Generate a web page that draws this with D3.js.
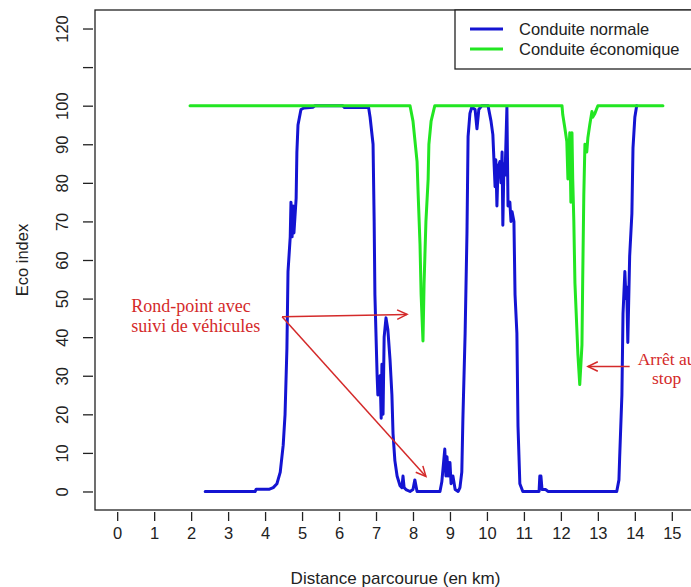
<!DOCTYPE html>
<html>
<head>
<meta charset="utf-8">
<script src="https://cdn.jsdelivr.net/npm/d3@7"></script>
<style>
  body { margin: 0; background: #fff; }
  svg { display: block; font-family: "Liberation Sans", Arial, sans-serif; }
</style>
</head>
<body>
<div id="chart"></div>
<script>
// distance (km), eco index
const normale = [
  [2.38, 0], [3.73, 0], [3.76, 0.6], [4.12, 0.6], [4.22, 1], [4.32, 2], [4.41, 5],
  [4.49, 12], [4.54, 20], [4.59, 37], [4.62, 57], [4.68, 66], [4.70, 75], [4.73, 66],
  [4.76, 74], [4.78, 67], [4.84, 76], [4.86, 88], [4.89, 95], [4.97, 99], [5.05, 99.4],
  [5.30, 99.6], [5.35, 100], [6.10, 100], [6.15, 99.5], [6.80, 99.5], [6.84, 97],
  [6.92, 90], [6.95, 70], [6.97, 51], [7.03, 30], [7.05, 25], [7.11, 30], [7.14, 19],
  [7.16, 33], [7.19, 20], [7.22, 40], [7.27, 45], [7.32, 42], [7.38, 34], [7.43, 25],
  [7.46, 15], [7.51, 8], [7.57, 4], [7.65, 1.5], [7.70, 1], [7.73, 4], [7.76, 1],
  [7.81, 0.5], [7.92, 0], [8.00, 0.5], [8.05, 3], [8.11, 0], [8.73, 0], [8.78, 2.5],
  [8.86, 11], [8.89, 4], [8.92, 9], [8.95, 4], [9.00, 7.5], [9.03, 2], [9.08, 4],
  [9.14, 0.5], [9.22, 0], [9.27, 1], [9.32, 5], [9.35, 19], [9.41, 41], [9.46, 67],
  [9.49, 92], [9.54, 98], [9.59, 99.6], [9.68, 99], [9.73, 94], [9.78, 99], [9.86, 100],
  [10.03, 100], [10.11, 96], [10.16, 92.5], [10.22, 79], [10.24, 86], [10.27, 74],
  [10.30, 84], [10.35, 85.5], [10.38, 80], [10.41, 88], [10.43, 69], [10.46, 85],
  [10.49, 82], [10.54, 99.6], [10.57, 74], [10.62, 75], [10.65, 70], [10.68, 72.5],
  [10.73, 70], [10.76, 51], [10.81, 41], [10.84, 17], [10.89, 2], [10.97, 0],
  [11.41, 0], [11.43, 4], [11.46, 4], [11.49, 0.5], [11.59, 0.5], [11.65, 0],
  [13.51, 0], [13.57, 3], [13.59, 9], [13.65, 25], [13.68, 46], [13.73, 57],
  [13.76, 50], [13.78, 53], [13.81, 38.6], [13.86, 61], [13.92, 72], [13.95, 89],
  [14.00, 97], [14.05, 100]
];

const economique = [
  [1.97, 100], [7.92, 100], [8.00, 96], [8.11, 85.5], [8.14, 77], [8.19, 64],
  [8.22, 51], [8.27, 39], [8.30, 54], [8.35, 70], [8.41, 81], [8.43, 90], [8.49, 96],
  [8.59, 100], [12.03, 100], [12.05, 97.7], [12.11, 94], [12.16, 90.7], [12.19, 81],
  [12.24, 93], [12.27, 75], [12.30, 93], [12.32, 81], [12.35, 70], [12.38, 54],
  [12.43, 42.5], [12.46, 35.5], [12.51, 27.7], [12.57, 38], [12.59, 55], [12.62, 77],
  [12.65, 90], [12.70, 88], [12.73, 91.7], [12.78, 95], [12.84, 98.5], [12.86, 97],
  [12.92, 98], [13.00, 100], [14.76, 100]
];

const xTicks = d3.range(0, 16);
const yTicks = d3.range(0, 130, 10);
const yLabelSkip = [110];

const series = [
  {name: 'Conduite normale', data: normale, color: '#1414d2'},
  {name: 'Conduite économique', data: economique, color: '#22e622'}
];

// annotation anchors in data units
const rondPoint = {text: ['Rond-point avec', 'suivi de véhicules'], at: [0.38, 46.4], from: [4.46, 45.3],
  to: [[7.84, 45.9], [8.35, 3.9]]};
const stop = {text: ['Arrêt au', 'stop'], at: [14.86, 32.8], from: [13.86, 32.4], to: [[12.73, 32.4]]};

const width = 691;
const height = 587;
const frame = {left: 95, right: 694, top: 10, bottom: 510};

const x = d3.scaleLinear()
    .domain([-0.6, 15.6])
    .range([frame.left, frame.right]);

const y = d3.scaleLinear()
    .domain([-4.8, 124.8])
    .range([frame.bottom, frame.top]);

const svg = d3.select('#chart')
  .append('svg')
    .attr('width', width)
    .attr('height', height);

const line = d3.line()
    .x(d => x(d[0]))
    .y(d => y(d[1]));

svg.append('g')
    .attr('class', 'lines')
  .selectAll('path')
  .data(series)
  .join('path')
    .attr('d', d => line(d.data))
    .attr('fill', 'none')
    .attr('stroke', d => d.color)
    .attr('stroke-width', 3)
    .attr('stroke-linejoin', 'round')
    .attr('stroke-linecap', 'round');

svg.append('rect')
    .attr('x', frame.left)
    .attr('y', frame.top)
    .attr('width', frame.right - frame.left)
    .attr('height', frame.bottom - frame.top)
    .attr('fill', 'none')
    .attr('stroke', '#222')
    .attr('stroke-width', 1.3);

// x axis sits a couple of pixels below the box, like R's axis()
svg.append('g')
    .attr('transform', `translate(0,${frame.bottom + 2})`)
    .call(d3.axisBottom(x).tickValues(xTicks).tickSize(9).tickPadding(6).tickFormat(d3.format('d')))
    .call(g => g.select('.domain').remove())
    .call(g => g.selectAll('.tick line').attr('stroke', '#222').attr('stroke-width', 1.3))
    .call(g => g.selectAll('.tick text')
        .attr('font-size', 16.5)
        .attr('font-family', '"Liberation Sans", Arial, sans-serif')
        .attr('fill', '#222'));

svg.append('g')
    .attr('transform', `translate(${frame.left - 2},0)`)
    .call(d3.axisLeft(y).tickValues(yTicks).tickSize(10).tickFormat(d => yLabelSkip.includes(d) ? '' : d))
    .call(g => g.select('.domain').remove())
    .call(g => g.selectAll('.tick line').attr('stroke', '#222').attr('stroke-width', 1.3))
    .call(g => g.selectAll('.tick text')
        .attr('x', null)
        .attr('dy', null)
        .attr('transform', 'translate(-31,0) rotate(-90)')
        .attr('text-anchor', 'middle')
        .attr('dominant-baseline', 'central')
        .attr('font-size', 16.5)
        .attr('font-family', '"Liberation Sans", Arial, sans-serif')
        .attr('fill', '#222'));

svg.append('text')
    .attr('x', (frame.left + frame.right) / 2 + 1)
    .attr('y', 584)
    .attr('text-anchor', 'middle')
    .attr('font-size', 17)
    .attr('fill', '#222')
    .text('Distance parcourue (en km)');

svg.append('text')
    .attr('transform', `translate(22,${(frame.top + frame.bottom) / 2}) rotate(-90)`)
    .attr('text-anchor', 'middle')
    .attr('dominant-baseline', 'central')
    .attr('font-size', 16.5)
    .attr('fill', '#222')
    .text('Eco index');

// legend
const legend = svg.append('g').attr('class', 'legend');

legend.append('rect')
    .attr('x', 455)
    .attr('y', frame.top)
    .attr('width', frame.right - 455)
    .attr('height', 59)
    .attr('fill', '#fff')
    .attr('stroke', '#222')
    .attr('stroke-width', 1.3);

legend.selectAll('.item')
  .data(series)
  .join('g')
    .attr('class', 'item')
    .attr('transform', (d, i) => `translate(470,${29 + i * 20})`)
    .call(g => g.append('line')
        .attr('x2', 33)
        .attr('stroke', d => d.color)
        .attr('stroke-width', 3))
    .call(g => g.append('text')
        .attr('x', 49)
        .attr('dominant-baseline', 'central')
        .attr('font-size', 16.5)
        .attr('fill', '#222')
        .text(d => d.name));

// annotations
const red = '#d42a2a';

function arrow(g, from, to) {
  const x0 = x(from[0]), y0 = y(from[1]);
  const x1 = x(to[0]), y1 = y(to[1]);
  const a = Math.atan2(y1 - y0, x1 - x0);
  const len = 11, spread = Math.PI / 7;
  g.append('line')
      .attr('x1', x0).attr('y1', y0)
      .attr('x2', x1).attr('y2', y1);
  g.append('path')
      .attr('fill', 'none')
      .attr('d', `M${x1 - len * Math.cos(a - spread)},${y1 - len * Math.sin(a - spread)}L${x1},${y1}L${x1 - len * Math.cos(a + spread)},${y1 - len * Math.sin(a + spread)}`);
}

const notes = svg.append('g')
    .attr('stroke', red)
    .attr('stroke-width', 1.5);

rondPoint.to.forEach(t => arrow(notes, rondPoint.from, t));
stop.to.forEach(t => arrow(notes, stop.from, t));

svg.append('text')
    .attr('font-family', '"Liberation Serif", "Times New Roman", serif')
    .attr('font-size', 18)
    .attr('fill', red)
  .selectAll('tspan')
  .data(rondPoint.text)
  .join('tspan')
    .attr('x', x(rondPoint.at[0]))
    .attr('y', (d, i) => y(rondPoint.at[1]) + i * 20)
    .text(d => d);

svg.append('text')
    .attr('font-family', '"Liberation Serif", "Times New Roman", serif')
    .attr('font-size', 17.5)
    .attr('fill', red)
    .attr('text-anchor', 'middle')
  .selectAll('tspan')
  .data(stop.text)
  .join('tspan')
    .attr('x', x(stop.at[0]))
    .attr('y', (d, i) => y(stop.at[1]) + i * 19)
    .text(d => d);
</script>
</body>
</html>
